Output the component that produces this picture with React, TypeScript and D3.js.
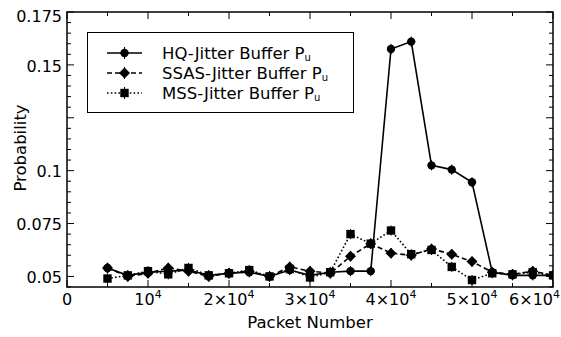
import React from "react";
import * as d3 from "d3";

const packets = [5000, 7500, 10000, 12500, 15000, 17500, 20000, 22500, 25000, 27500, 30000, 32500, 35000, 37500, 40000, 42500, 45000, 47500, 50000, 52500, 55000, 57500, 60000];
const hqValues = [0.054, 0.0505, 0.052, 0.0525, 0.053, 0.0505, 0.0515, 0.052, 0.050, 0.053, 0.0505, 0.052, 0.0525, 0.0525, 0.1575, 0.161, 0.1025, 0.1005, 0.0945, 0.052, 0.0505, 0.0505, 0.0505];
const ssasValues = [0.054, 0.050, 0.0515, 0.054, 0.0525, 0.050, 0.0515, 0.0525, 0.050, 0.0545, 0.0525, 0.0515, 0.0595, 0.0655, 0.061, 0.060, 0.063, 0.0605, 0.057, 0.052, 0.051, 0.0525, 0.0505];
const mssValues = [0.049, 0.0505, 0.0525, 0.051, 0.054, 0.0505, 0.0515, 0.053, 0.050, 0.0535, 0.0495, 0.052, 0.070, 0.0655, 0.0717, 0.0605, 0.0625, 0.0545, 0.0483, 0.0515, 0.051, 0.052, 0.0505];
const errorHalf = 0.0024;
const seriesNames = ["HQ-Jitter Buffer P", "SSAS-Jitter Buffer P", "MSS-Jitter Buffer P"];
const seriesSubscript = "u";
const xTicks = [0, 10000, 20000, 30000, 40000, 50000, 60000];
const xTickLabels = ["0", "10^4", "2×10^4", "3×10^4", "4×10^4", "5×10^4", "6×10^4"];
const yTicks = [0.05, 0.075, 0.1, 0.125, 0.15, 0.175];
const yTickLabels = ["0.05", "0.075", "0.1", "", "0.15", "0.175"];
const xTitle = "Packet Number";
const yTitle = "Probability";

const FONT = "DejaVu Sans, Bitstream Vera Sans, sans-serif";

type Marker = "circle" | "diamond" | "square";

function MarkerShape({ type, cx, cy }: { type: Marker; cx: number; cy: number }) {
  if (type === "circle") return <circle cx={cx} cy={cy} r={4.2} fill="#000" />;
  if (type === "diamond")
    return <path d={`M${cx},${cy - 5.5}L${cx + 5.5},${cy}L${cx},${cy + 5.5}L${cx - 5.5},${cy}Z`} fill="#000" />;
  return <rect x={cx - 4.2} y={cy - 4.2} width={8.4} height={8.4} fill="#000" />;
}

export default function App() {
  const W = 561, H = 337;
  const L = 67, R = 553, T = 12, B = 287;
  const x = d3.scaleLinear().domain([0, 60000]).range([L, R]);
  const y = d3.scaleLinear().domain([0.045, 0.175]).range([B, T]);

  const series: { name: string; values: number[]; dash: string; marker: Marker }[] = [
    { name: seriesNames[0], values: hqValues, dash: "none", marker: "circle" },
    { name: seriesNames[1], values: ssasValues, dash: "5,3", marker: "diamond" },
    { name: seriesNames[2], values: mssValues, dash: "1.6,2.2", marker: "square" },
  ];

  const line = d3.line<number>().x((_, i) => x(packets[i])).y((v) => y(v));

  const xMinor = d3.range(0, 60001, 5000).filter((v) => !xTicks.includes(v));
  const yMinor = d3.range(0.045, 0.17501, 0.005).map((v) => +v.toFixed(3)).filter((v) => !yTicks.some((t) => Math.abs(t - v) < 1e-6));

  const renderLabel = (s: string) => {
    const parts = s.split("^");
    if (parts.length === 1) return <tspan>{s}</tspan>;
    return (
      <>
        <tspan>{parts[0]}</tspan>
        <tspan fontSize={11} dy={-7}>{parts[1]}</tspan>
      </>
    );
  };

  const legendRows = [58.5, 78.5, 98.5];

  return (
    <svg width={W} height={H} style={{ position: "absolute", left: 0, top: 0, background: "#fff" }} fontFamily={FONT}>
      <rect x={0} y={0} width={W} height={H} fill="#fff" />
      {/* ticks */}
      {xTicks.map((t) => (
        <g key={"xt" + t}>
          <line x1={x(t)} x2={x(t)} y1={B} y2={B - 7} stroke="#000" strokeWidth={1} />
          <line x1={x(t)} x2={x(t)} y1={T} y2={T + 7} stroke="#000" strokeWidth={1} />
        </g>
      ))}
      {xMinor.map((t) => (
        <g key={"xm" + t}>
          <line x1={x(t)} x2={x(t)} y1={B} y2={B - 4} stroke="#000" strokeWidth={1} />
          <line x1={x(t)} x2={x(t)} y1={T} y2={T + 4} stroke="#000" strokeWidth={1} />
        </g>
      ))}
      {yTicks.map((t) => (
        <g key={"yt" + t}>
          <line x1={L} x2={L + 7} y1={y(t)} y2={y(t)} stroke="#000" strokeWidth={1} />
          <line x1={R} x2={R - 7} y1={y(t)} y2={y(t)} stroke="#000" strokeWidth={1} />
        </g>
      ))}
      {yMinor.map((t) => (
        <g key={"ym" + t}>
          <line x1={L} x2={L + 4} y1={y(t)} y2={y(t)} stroke="#000" strokeWidth={1} />
          <line x1={R} x2={R - 4} y1={y(t)} y2={y(t)} stroke="#000" strokeWidth={1} />
        </g>
      ))}
      {/* tick labels */}
      {yTicks.map((t, i) => (
        <text key={"yl" + t} x={62} y={Math.max(y(t) + 1, 16.5) + 5.8} textAnchor="end" fontSize={16} fill="#000">
          {yTickLabels[i]}
        </text>
      ))}
      {xTicks.map((t, i) => {
        const px = x(t);
        const atEdge = px + 26 > W;
        return (
          <text key={"xl" + t} x={atEdge ? 560 : px} y={305} textAnchor={atEdge ? "end" : "middle"} fontSize={16} fill="#000">
            {renderLabel(xTickLabels[i])}
          </text>
        );
      })}
      <text x={(L + R) / 2} y={328} textAnchor="middle" fontSize={16.5} fill="#000">{xTitle}</text>
      <text transform={`translate(25.5,148) rotate(-90)`} textAnchor="middle" fontSize={16.5} fill="#000">{yTitle}</text>

      {/* series */}
      <defs>
        <clipPath id="plotclip">
          <rect x={L} y={T} width={R - L} height={B - T} />
        </clipPath>
      </defs>
      <g clipPath="url(#plotclip)">
        {series.map((s) => (
          <g key={s.name}>
            <path d={line(s.values) || ""} fill="none" stroke="#000" strokeWidth={1.6} strokeDasharray={s.dash} />
            {s.values.map((v, i) => (
              <line key={"e" + i} x1={x(packets[i])} x2={x(packets[i])} y1={y(v - errorHalf)} y2={y(v + errorHalf)} stroke="#000" strokeWidth={1} />
            ))}
            {s.values.map((v, i) => (
              <MarkerShape key={"m" + i} type={s.marker} cx={x(packets[i])} cy={y(v)} />
            ))}
          </g>
        ))}
      </g>

      {/* frame */}
      <rect x={L} y={T} width={R - L} height={B - T} fill="none" stroke="#000" strokeWidth={1.5} />

      {/* legend */}
      <rect x={87.5} y={32.5} width={266} height={80} fill="#fff" stroke="#000" strokeWidth={1} />
      {series.map((s, i) => {
        const cy = legendRows[i] - 5.5;
        return (
          <g key={"lg" + i}>
            <line x1={107} x2={142} y1={cy} y2={cy} stroke="#000" strokeWidth={1.6} strokeDasharray={s.dash} />
            <line x1={124.5} x2={124.5} y1={cy - 6} y2={cy + 6} stroke="#000" strokeWidth={1} />
            <MarkerShape type={s.marker} cx={124.5} cy={cy} />
            <text x={162} y={legendRows[i]} fontSize={16.5} fill="#000">
              <tspan>{s.name}</tspan>
              <tspan fontSize={10} dy={2}>{seriesSubscript}</tspan>
            </text>
          </g>
        );
      })}
    </svg>
  );
}
